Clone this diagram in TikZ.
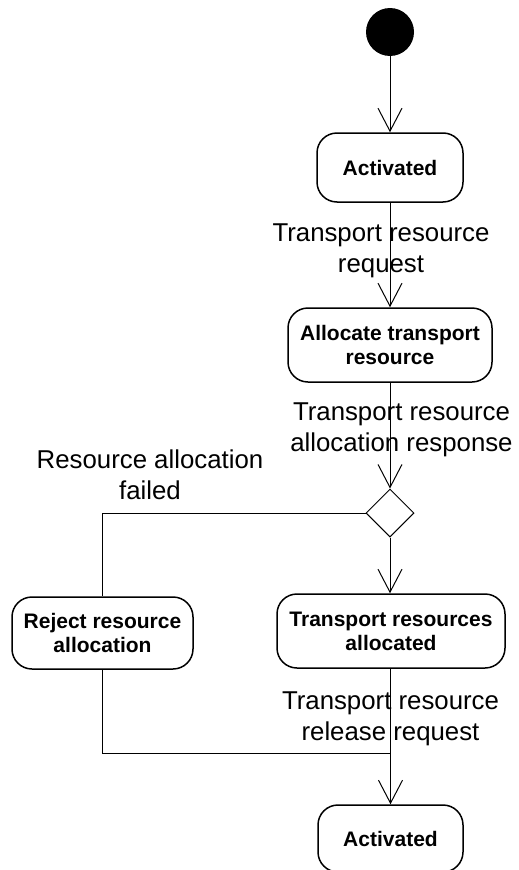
\documentclass[tikz,border=0pt]{standalone}
\usepackage{fontspec}
\setmainfont{Liberation Sans}
\usetikzlibrary{arrows.meta,shapes.geometric}
\begin{document}
\begin{tikzpicture}[x=1pt,y=-1pt,
  statebox/.style={draw,line width=1.5pt,rounded corners=20pt,align=center,inner sep=0pt,
    font=\fontsize{21}{24}\selectfont\bfseries},
  lbl/.style={align=center,inner sep=0pt,font=\fontsize{25.8}{30.5}\selectfont},
  conn/.style={line width=1pt},
  arr/.style={conn,-{Straight Barb[length=23pt,width=24pt,line width=1pt]}}]
\useasboundingbox (0,0) rectangle (519,870);
\node[circle,fill=black,minimum size=48pt,inner sep=0pt] (start) at (390,32) {};
\node[statebox,minimum width=146pt,minimum height=69pt] (act1) at (390,167.5) {Activated};
\node[statebox,minimum width=204pt,minimum height=74pt] (alloc) at (390,345) {Allocate transport\\resource};
\node[diamond,draw,line width=1pt,minimum width=48pt,minimum height=48pt,inner sep=0pt] (dec) at (390,513) {};
\node[statebox,minimum width=181pt,minimum height=72pt] (reject) at (102.5,633) {Reject resource\\allocation};
\node[statebox,minimum width=228pt,minimum height=74pt] (alloc2) at (391,631) {Transport resources\\allocated};
\node[statebox,minimum width=145pt,minimum height=67pt] (act2) at (390.5,838.5) {Activated};
\coordinate (join) at (390,753);
\draw[arr] (start) -- (act1);
\draw[arr] (act1) -- (alloc);
\draw[arr] (alloc) -- (dec);
\draw[arr] (dec) -- (alloc2.north -| dec);
\draw[conn] (dec.west) -| (reject.north);
\draw[conn] (reject.south) |- (join);
\draw[arr] (alloc2.south -| act2) -- (act2);
\node[lbl] (l1) at (381,251) {Transport resource\\request};
\node[lbl] (l2) at (401.5,430) {Transport resource\\allocation response};
\node[lbl] (l3) at (150,475) {Resource allocation\\failed};
\node[lbl] (l4) at (390.5,719) {Transport resource\\release request};
\end{tikzpicture}
\end{document}
